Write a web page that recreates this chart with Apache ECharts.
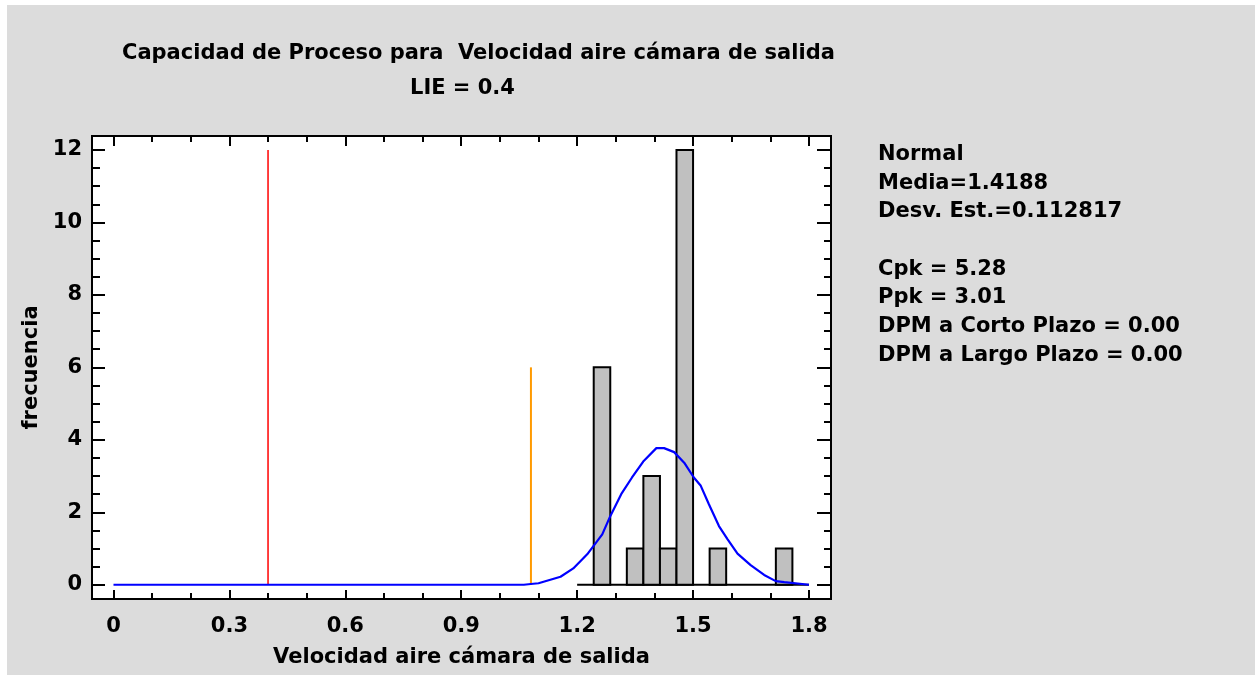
<!DOCTYPE html>
<html>
<head>
<meta charset="utf-8">
<script src="https://cdn.jsdelivr.net/npm/echarts@6/dist/echarts.min.js"></script>
<style>
  html, body { margin: 0; padding: 0; background: #fff; }
  #chart { width: 1255px; height: 675px; }
</style>
</head>
<body>
<div id="chart"></div>
<script>
// histogram bins (14 bins from 1.2 to 1.8) and counts
const binEdges = [1.2, 1.2429, 1.2857, 1.3286, 1.3714, 1.4143, 1.4571, 1.5, 1.5429, 1.5857, 1.6286, 1.6714, 1.7143, 1.7571, 1.8]
const binCounts = [0, 6, 0, 1, 3, 1, 12, 0, 1, 0, 0, 0, 1, 0]

// fitted normal curve
const curveX = [0, 1.062, 1.08, 1.10, 1.157, 1.19, 1.226, 1.265, 1.286, 1.314, 1.342, 1.371, 1.405, 1.425, 1.451, 1.477, 1.502, 1.52, 1.541, 1.567, 1.589, 1.615, 1.649, 1.684, 1.714, 1.736, 1.80]
const curveY = [0, 0, 0.02, 0.04, 0.22, 0.45, 0.84, 1.39, 1.90, 2.50, 2.96, 3.40, 3.77, 3.77, 3.66, 3.37, 2.96, 2.73, 2.22, 1.62, 1.26, 0.86, 0.54, 0.27, 0.10, 0.07, 0]

// spec limit (LIE) and the lower 3-sigma line
const lie = [0.4, 12]
const lowerSigma = [1.0804, 6]

// tick labels / tick positions
const xMajor = [0, 0.3, 0.6, 0.9, 1.2, 1.5, 1.8]
const xMinor = [0.1, 0.2, 0.4, 0.5, 0.7, 0.8, 1.0, 1.1, 1.3, 1.4, 1.6, 1.7]
const yMajor = [0, 2, 4, 6, 8, 10, 12]
const yMinor = [0.5, 1, 1.5, 2.5, 3, 3.5, 4.5, 5, 5.5, 6.5, 7, 7.5, 8.5, 9, 9.5, 10.5, 11, 11.5]

const statsLines = [
  'Normal',
  'Media=1.4188',
  'Desv. Est.=0.112817',
  '',
  'Cpk = 5.28',
  'Ppk = 3.01',
  'DPM a Corto Plazo = 0.00',
  'DPM a Largo Plazo = 0.00'
]

const font = '"DejaVu Sans", Verdana, sans-serif'
const fontSize = 21

let chart = echarts.init(document.getElementById('chart'))

function tickAxis(kind, position, values, len, extra) {
  return Object.assign({
    type: 'value',
    position: position,
    min: kind === 'x' ? -0.0556 : -0.394,
    max: kind === 'x' ? 1.857 : 12.386,
    axisLine: { show: false, onZero: false },
    splitLine: { show: false },
    axisLabel: { show: false },
    axisTick: {
      show: true,
      inside: true,
      length: len,
      customValues: values,
      lineStyle: { color: '#000', width: 2 }
    }
  }, extra || {})
}

let hist = []
for (let i = 0; i < binCounts.length; i++) {
  if (binCounts[i] > 0) hist.push([binEdges[i], binEdges[i + 1], binCounts[i]])
}

let labelStyle = { fontFamily: font, fontWeight: 'bold', fontSize: fontSize, color: '#000' }

chart.setOption({
  animation: false,
  backgroundColor: '#fff',
  graphic: [
    {
      type: 'rect',
      z: -10,
      silent: true,
      shape: { x: 7, y: 5, width: 1255, height: 675 },
      style: { fill: '#dcdcdc' }
    },
    {
      type: 'text',
      left: 122,
      top: 43,
      style: {
        text: 'Capacidad de Proceso para  Velocidad aire cámara de salida',
        font: 'bold ' + fontSize + 'px ' + font,
        fill: '#000'
      }
    },
    {
      type: 'text',
      left: 410,
      top: 78,
      style: {
        text: 'LIE = 0.4',
        font: 'bold ' + fontSize + 'px ' + font,
        fill: '#000'
      }
    },
    {
      type: 'text',
      left: 878,
      top: 140,
      style: {
        text: statsLines.join('\n'),
        font: 'bold ' + fontSize + 'px ' + font,
        lineHeight: 28.7,
        fill: '#000'
      }
    }
  ],
  grid: {
    left: 92,
    top: 136,
    width: 739,
    height: 463,
    show: true,
    backgroundColor: '#fff',
    borderColor: '#000',
    borderWidth: 2
  },
  xAxis: [
    tickAxis('x', 'bottom', xMajor, 9, {
      name: 'Velocidad aire cámara de salida',
      nameLocation: 'middle',
      nameGap: 48,
      nameTextStyle: labelStyle,
      axisLabel: Object.assign({ show: true, customValues: xMajor, margin: 17 }, labelStyle)
    }),
    tickAxis('x', 'bottom', xMinor, 6),
    tickAxis('x', 'top', xMajor, 10),
    tickAxis('x', 'top', xMinor, 6)
  ],
  yAxis: [
    tickAxis('y', 'left', yMajor, 13, {
      name: 'frecuencia',
      nameLocation: 'middle',
      nameGap: 47,
      nameRotate: 90,
      nameTextStyle: labelStyle,
      axisLabel: Object.assign({ show: true, customValues: yMajor, margin: 10 }, labelStyle)
    }),
    tickAxis('y', 'left', yMinor, 8),
    tickAxis('y', 'right', yMajor, 14),
    tickAxis('y', 'right', yMinor, 7)
  ],
  series: [
    {
      type: 'line',
      name: 'base',
      data: [[binEdges[0], 0], [binEdges[binEdges.length - 1], 0]],
      symbol: 'none',
      lineStyle: { color: '#000', width: 2 },
      z: 1
    },
    {
      type: 'custom',
      name: 'hist',
      data: hist,
      z: 2,
      renderItem: function (params, api) {
        let p0 = api.coord([api.value(0), api.value(2)])
        let p1 = api.coord([api.value(1), 0])
        return {
          type: 'rect',
          shape: { x: p0[0], y: p0[1], width: p1[0] - p0[0], height: p1[1] - p0[1] },
          style: { fill: '#c0c0c0', stroke: '#000', lineWidth: 2 }
        }
      }
    },
    {
      type: 'line',
      name: 'LIE',
      data: [[lie[0], 0], [lie[0], lie[1]]],
      symbol: 'none',
      lineStyle: { color: '#ff0000', width: 1.5 },
      z: 3
    },
    {
      type: 'line',
      name: 'sigma',
      data: [[lowerSigma[0], 0], [lowerSigma[0], lowerSigma[1]]],
      symbol: 'none',
      lineStyle: { color: '#ff9a00', width: 2 },
      z: 3
    },
    {
      type: 'line',
      name: 'normal',
      data: curveX.map((x, i) => [x, curveY[i]]),
      symbol: 'none',
      lineStyle: { color: '#0000ff', width: 2.2 },
      z: 4
    }
  ]
})
</script>
</body>
</html>
